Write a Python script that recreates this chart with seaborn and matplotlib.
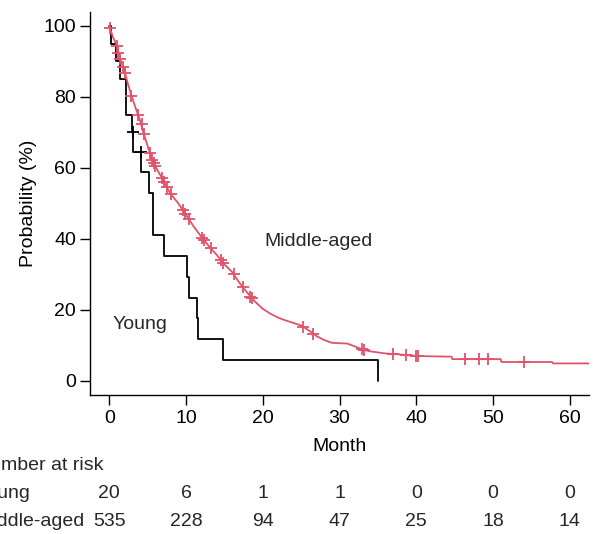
import numpy as np
import pandas as pd
import seaborn as sns
import matplotlib.pyplot as plt
from matplotlib.transforms import blended_transform_factory

# Kaplan-Meier curves (month, survival %)
young_t = [0, 0.22, 0.91, 1.35, 2.2, 3.0, 3.1, 4.15, 5.25, 5.75, 7.08, 10.13, 10.4, 11.5, 11.62, 14.77, 35.0]
young_s = [100, 95, 90, 85, 75, 70, 64.6, 58.7, 52.8, 41.0, 35.1, 29.3, 23.4, 17.6, 11.7, 5.9, 0]
young_cens_t = [3.05, 4.13]
young_cens_s = [70, 64.6]

mid_t = [0, 0.5, 1, 1.5, 2, 2.5, 3, 3.5, 4, 4.5, 5, 5.5, 6, 6.5, 7, 7.5, 8, 9, 10, 11, 12,
         13, 14, 15, 16, 17, 18, 19, 20, 21, 22, 23, 24, 25, 26, 27, 28, 29, 30, 31, 32,
         33, 34, 35, 36, 38, 40, 42, 44.6, 44.7, 51.0, 51.1, 57.7, 57.8, 63]
mid_s = [100, 96.8, 94.4, 90.2, 87.2, 83.2, 79.7, 76.5, 73.5, 69.6, 66.2, 62.8, 60.5, 58.5, 56.8,
         54.5, 52.7, 50.0, 46.8, 43.5, 40.6, 37.9, 35.5, 32.8, 30.7, 27.5, 24.8, 22.3, 20.3,
         18.9, 17.8, 17.0, 16.3, 15.6, 14.2, 12.6, 11.5, 10.7, 10.6, 10.5, 9.7, 8.8, 8.3, 8.0,
         7.7, 7.4, 7.0, 6.9, 6.8, 6.1, 6.1, 5.3, 5.3, 4.9, 4.9]
mid_cens_t = [0.1, 1.0, 1.2, 1.4, 1.8, 2.1, 2.9, 3.8, 4.3, 4.5, 5.3, 5.6, 5.8, 6.0, 6.9, 7.2,
              7.5, 8.0, 9.6, 9.9, 10.4, 12.1, 12.3, 13.2, 14.5, 14.8, 16.2, 17.4, 18.4, 18.6,
              25.3, 26.6, 32.9, 33.2, 37.0, 38.7, 40.0, 40.2, 46.4, 48.2, 49.3, 54.0]
mid_cens_s = [99.3, 94.4, 92.5, 90.8, 88.4, 86.6, 80.3, 74.8, 72.3, 69.6, 64.1, 62.3, 61.4, 60.5,
              57.2, 55.9, 54.5, 52.7, 48.1, 47.1, 45.5, 40.3, 39.7, 37.4, 34.1, 33.3, 30.1,
              26.5, 23.7, 23.3, 15.2, 13.2, 8.9, 8.7, 7.5, 7.2, 7.0, 7.0, 6.1, 6.1, 6.1, 5.3]

risk_times = [0, 10, 20, 30, 40, 50, 60]
risk_young = [20, 6, 1, 1, 0, 0, 0]
risk_mid = [535, 228, 94, 47, 25, 18, 14]

red = "#DF536B"
fs = 14

sns.set_style("ticks")
plt.rcParams['font.family'] = ['Liberation Sans', 'DejaVu Sans']

fig = plt.figure(figsize=(5.93, 5.34), dpi=100)
ax = fig.add_axes([90 / 593, 139 / 534, 499 / 593, 383.3 / 534])

sns.lineplot(x=young_t, y=young_s, ax=ax, color="black", lw=1.3, sort=False,
             estimator=None, drawstyle="steps-post")
sns.lineplot(x=mid_t, y=mid_s, ax=ax, color=red, lw=1.3, sort=False, estimator=None)
sns.scatterplot(x=young_cens_t, y=young_cens_s, ax=ax, marker="+", color="black",
                s=75, linewidth=1.3, zorder=3)
sns.scatterplot(x=mid_cens_t, y=mid_cens_s, ax=ax, marker="+", color=red,
                s=75, linewidth=1.3, zorder=3)

ax.set_xlim(-2.5, 62.5)
ax.set_ylim(-4, 104)
ax.set_xticks(risk_times)
ax.set_yticks([0, 20, 40, 60, 80, 100])
sns.despine(ax=ax)
for s in ["left", "bottom"]:
    ax.spines[s].set_linewidth(1.0)
    ax.spines[s].set_color("black")
ax.tick_params(axis="both", labelsize=fs, length=7, width=1.0, color="black",
               labelcolor="black")
ax.tick_params(axis="x", pad=4)
ax.tick_params(axis="y", pad=3)
ax.set_xlabel("Month", fontsize=fs, labelpad=8, color="black")
ax.set_ylabel("Probability (%)", fontsize=fs, labelpad=5, color="black")

ax.text(20.2, 39.3, "Middle-aged", fontsize=fs, va="center", ha="left")
ax.text(0.4, 16, "Young", fontsize=fs, va="center", ha="left")

# number at risk table below the plot (left part is cut off in the original)
tr = blended_transform_factory(ax.transData, fig.transFigure)
x0 = -24 / 593
fig.text(x0, 1 - 465 / 534, "Number at risk", fontsize=fs, va="center", ha="left")
fig.text(x0, 1 - 494 / 534, "Young", fontsize=fs, va="center", ha="left")
fig.text(x0, 1 - 522 / 534, "Middle-aged", fontsize=fs, va="center", ha="left")
for t, a, b in zip(risk_times, risk_young, risk_mid):
    ax.text(t, 1 - 494 / 534, str(a), transform=tr, fontsize=fs, va="center", ha="center")
    ax.text(t, 1 - 522 / 534, str(b), transform=tr, fontsize=fs, va="center", ha="center")

fig.savefig("out.png", dpi=100)
